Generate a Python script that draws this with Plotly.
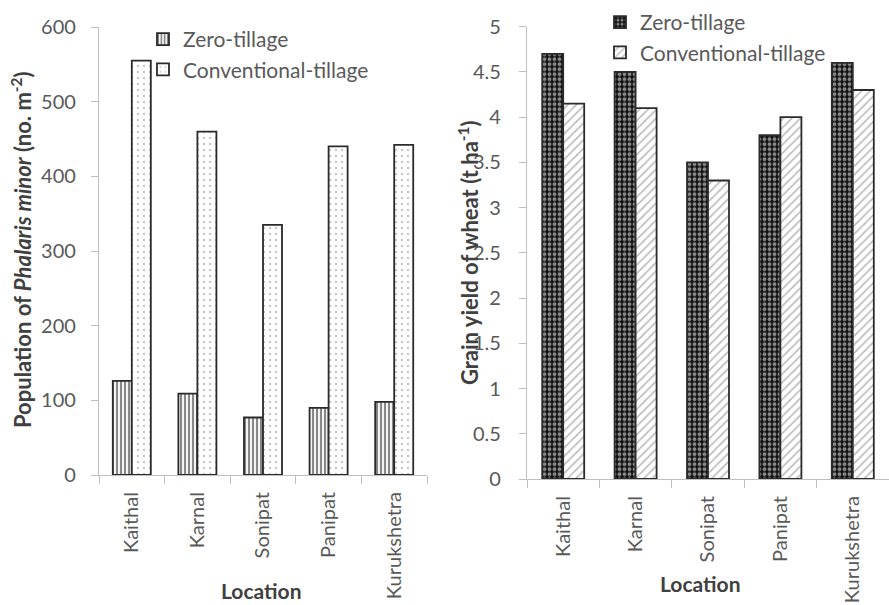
import plotly.graph_objects as go

# Survey locations (x categories)
locations = ["Kaithal", "Karnal", "Sonipat", "Panipat", "Kurukshetra"]

# Phalaris minor population (no. m-2)
population_zero = [126, 109, 77, 90, 98]
population_conv = [555, 460, 335, 440, 442]

# Wheat grain yield (t ha-1)
yield_zero = [4.7, 4.5, 3.5, 3.8, 4.6]
yield_conv = [4.15, 4.1, 3.3, 4.0, 4.3]

series_names = ["Zero-tillage", "Conventional-tillage"]
y_ticks_yield = [0, 0.5, 1, 1.5, 2, 2.5, 3, 3.5, 4, 4.5, 5]

FONT = "Lato"
TICK_GREY = "#595959"
TITLE_GREY = "#404040"
AXIS_GREY = "#bfbfbf"
EDGE = dict(color="#2b2b2b", width=1.8)

W, H = 889, 605

fig = go.Figure()

# Left panel: weed population
fig.add_trace(go.Bar(
    x=locations, y=population_zero, name=series_names[0],
    xaxis="x", yaxis="y", legend="legend",
    marker=dict(color="white", line=EDGE,
                pattern=dict(shape="|", fgcolor="#111111", bgcolor="white",
                             size=4, solidity=0.55)),
))
fig.add_trace(go.Bar(
    x=locations, y=population_conv, name=series_names[1],
    xaxis="x", yaxis="y", legend="legend",
    marker=dict(color="white", line=EDGE,
                pattern=dict(shape=".", fgcolor="#8a8a8a", bgcolor="white",
                             size=6, solidity=0.12)),
))

# Right panel: grain yield
fig.add_trace(go.Bar(
    x=locations, y=yield_zero, name=series_names[0],
    xaxis="x2", yaxis="y2", legend="legend2",
    marker=dict(color="#111111", line=EDGE,
                pattern=dict(shape=".", fgcolor="white", bgcolor="#111111",
                             size=5, solidity=0.45)),
))
fig.add_trace(go.Bar(
    x=locations, y=yield_conv, name=series_names[1],
    xaxis="x2", yaxis="y2", legend="legend2",
    marker=dict(color="white", line=EDGE,
                pattern=dict(shape="/", fgcolor="#6e6e6e", bgcolor="white",
                             size=6, solidity=0.25)),
))

common_x = dict(
    type="category", range=[-0.5, 4.5], showline=True, linecolor=AXIS_GREY,
    linewidth=1.2, ticks="outside", tickson="boundaries", ticklen=8,
    tickcolor=AXIS_GREY, tickangle=-90, showgrid=False, zeroline=False,
    ticklabelposition="outside", ticklabelstandoff=8,
    tickfont=dict(family=FONT, size=20, color=TICK_GREY),
)
common_y = dict(
    showline=True, linecolor=AXIS_GREY, linewidth=1.2, ticks="outside",
    ticklen=7, tickcolor=AXIS_GREY, showgrid=False, zeroline=False,
    ticklabelposition="outside",
    tickfont=dict(family=FONT, size=20, color=TICK_GREY),
)

legend_common = dict(
    xanchor="left", yanchor="top", bgcolor="rgba(0,0,0,0)",
    font=dict(family=FONT, size=21, color=TICK_GREY),
    tracegroupgap=0, itemwidth=30, traceorder="normal",
)

fig.update_layout(
    width=W, height=H,
    margin=dict(l=0, r=0, t=0, b=0, autoexpand=False),
    paper_bgcolor="white", plot_bgcolor="white",
    barmode="group", bargap=0.42, bargroupgap=0,
    xaxis=dict(domain=[99 / W, 427 / W], anchor="y", **common_x),
    yaxis=dict(domain=[(H - 475) / H, (H - 27) / H], anchor="x",
               range=[0, 600], dtick=100, ticklabelstandoff=11, **common_y),
    xaxis2=dict(domain=[527 / W, 1.0], anchor="y2", **common_x),
    yaxis2=dict(domain=[(H - 479) / H, (H - 26.7) / H], anchor="x2",
                range=[0, 5], tickvals=y_ticks_yield,
                ticktext=[f"{v:g}" for v in y_ticks_yield],
                ticklabelstandoff=14, **common_y),
    legend=dict(x=143 / W, y=(H - 19) / H, **legend_common),
    legend2=dict(x=600 / W, y=(H - 2) / H, **legend_common),
    showlegend=True,
)

# Axis titles
ann_font = dict(family=FONT, size=22, color=TITLE_GREY)
fig.add_annotation(
    xref="paper", yref="paper", x=22 / W, y=(H - 250) / H,
    text="<b>Population of <i>Phalaris minor</i> (no. m<sup>-2</sup>)</b>",
    textangle=-90, showarrow=False, font=ann_font,
    xanchor="center", yanchor="middle",
)
fig.add_annotation(
    xref="paper", yref="paper", x=469 / W, y=(H - 252) / H,
    text="<b>Grain yield of wheat (t ha<sup>-1</sup>)</b>",
    textangle=-90, showarrow=False, font=ann_font,
    xanchor="center", yanchor="middle",
)
fig.add_annotation(
    xref="paper", yref="paper", x=261 / W, y=(H - 590) / H,
    text="<b>Location</b>", showarrow=False,
    font=dict(family=FONT, size=21, color=TITLE_GREY),
    xanchor="center", yanchor="middle",
)
fig.add_annotation(
    xref="paper", yref="paper", x=700 / W, y=(H - 583) / H,
    text="<b>Location</b>", showarrow=False,
    font=dict(family=FONT, size=21, color=TITLE_GREY),
    xanchor="center", yanchor="middle",
)

fig.write_html("out.html")
